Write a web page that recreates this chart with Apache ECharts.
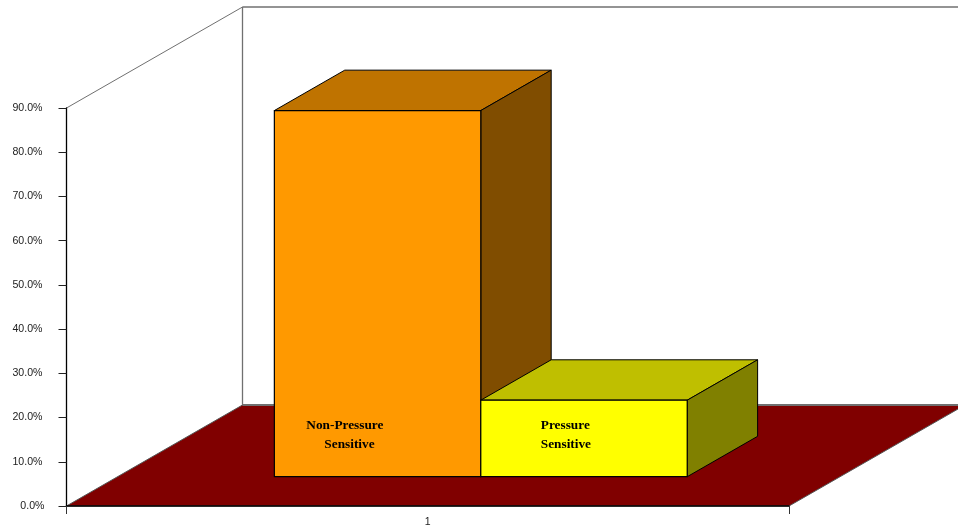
<!DOCTYPE html>
<html>
<head>
<meta charset="utf-8">
<title>Pressure sensitivity share</title>
<style>html,body{margin:0;padding:0;background:#fff}#chart{width:958px;height:527px}</style>
<script src="https://cdn.jsdelivr.net/npm/echarts@6/dist/echarts.min.js"></script>
</head>
<body>
<div id="chart"></div>
<script>
// Chart values
const categories = ['1'];
const seriesNames = ['Non-Pressure Sensitive', 'Pressure Sensitive'];
const seriesValues = [82.8, 17.3];
const axisTicks = [0, 10, 20, 30, 40, 50, 60, 70, 80, 90];

// Oblique projection of the 3D floor and of the bars standing on it
const floorDepth = { dx: 176, dy: -101 };
const barFront = 0.29;
const barBack = 0.69;
const gapRatio = 1.5;
const barShift = 2;

const faceStyles = [
  { front: '#FF9900', top: '#BF7300', side: '#804D00' },
  { front: '#FFFF00', top: '#BFBF00', side: '#808000' }
];
const captions = [
  [{ text: 'Non-Pressure', dx: 32, dy: 315 }, { text: 'Sensitive', dx: 50, dy: 334 }],
  [{ text: 'Pressure', dx: 60, dy: 25.5 }, { text: 'Sensitive', dx: 60, dy: 44.5 }]
];

function poly(points, fill, stroke, lineWidth) {
  return {
    type: 'polygon',
    shape: { points: points },
    style: { fill: fill, stroke: stroke, lineWidth: lineWidth, lineJoin: 'miter' }
  };
}

function line(x1, y1, x2, y2, stroke, lineWidth) {
  return {
    type: 'line',
    shape: { x1: x1, y1: y1, x2: x2, y2: y2 },
    style: { stroke: stroke, lineWidth: lineWidth }
  };
}

// Floor and the two wall outlines behind the bars
function renderRoom(params, api) {
  const c = params.coordSys;
  const left = c.x, right = c.x + c.width, top = c.y, bottom = c.y + c.height;
  const dx = floorDepth.dx, dy = floorDepth.dy;
  return {
    type: 'group',
    children: [
      poly([[left, bottom], [right, bottom], [right + dx, bottom + dy], [left + dx, bottom + dy]], '#800000', '#555555', 1),
      line(left + dx, bottom + dy, right + dx, bottom + dy, '#707070', 2),
      line(left, top, left + dx, top + dy, '#707070', 1),
      line(left + dx, top + dy, left + dx, bottom + dy, '#707070', 1.3),
      line(left + dx, top + dy, 958, top + dy, '#707070', 1.3)
    ]
  };
}

// One extruded bar: top, side and front faces plus its caption
function renderBar(barIndex) {
  return function (params, api) {
    const band = api.size([1, 0])[0];
    const width = band / (seriesValues.length + gapRatio);
    const center = api.coord([api.value(0), 0]);
    const valuePoint = api.coord([api.value(0), api.value(1)]);
    const fx = floorDepth.dx * barFront, fy = floorDepth.dy * barFront;
    const bx = floorDepth.dx * (barBack - barFront), by = floorDepth.dy * (barBack - barFront);
    const x0 = center[0] + (barIndex - seriesValues.length / 2) * width + fx + barShift;
    const x1 = x0 + width;
    const yBase = center[1] + fy;
    const yTop = valuePoint[1] + fy;
    const s = faceStyles[barIndex];
    const children = [
      poly([[x0, yTop], [x1, yTop], [x1 + bx, yTop + by], [x0 + bx, yTop + by]], s.top, '#000', 1),
      poly([[x1, yTop], [x1 + bx, yTop + by], [x1 + bx, yBase + by], [x1, yBase]], s.side, '#000', 1),
      poly([[x0, yTop], [x1, yTop], [x1, yBase], [x0, yBase]], s.front, '#000', 1.2)
    ];
    captions[barIndex].forEach(function (cap) {
      children.push({
        type: 'text',
        style: {
          x: x0 + cap.dx,
          y: yTop + cap.dy,
          text: cap.text,
          fill: '#000',
          font: 'bold 13.3px "Liberation Serif"',
          align: 'left',
          verticalAlign: 'middle'
        }
      });
    });
    return { type: 'group', children: children };
  };
}

const chart = echarts.init(document.getElementById('chart'), null, { renderer: 'canvas' });

chart.setOption({
  animation: false,
  backgroundColor: '#fff',
  tooltip: { show: false },
  grid: { left: 66.5, right: 169, top: 108, bottom: 21, containLabel: false, outerBoundsMode: 'none' },
  xAxis: {
    type: 'category',
    data: categories,
    z: 5,
    boundaryGap: true,
    axisLine: { show: true, lineStyle: { color: '#000', width: 1.5 } },
    axisTick: { show: true, length: 8, alignWithLabel: false, lineStyle: { color: '#333', width: 1 } },
    axisLabel: { color: '#222', fontFamily: 'Liberation Sans', fontSize: 10.5, margin: 11 }
  },
  yAxis: {
    type: 'value',
    min: axisTicks[0],
    max: axisTicks[axisTicks.length - 1],
    interval: 10,
    z: 5,
    splitLine: { show: false },
    axisLine: { show: true, lineStyle: { color: '#000', width: 1.3 } },
    axisTick: { show: true, length: 8, lineStyle: { color: '#222', width: 1 } },
    axisLabel: {
      margin: 22,
      formatter: function (v) {
        const s = v.toFixed(1) + '%';
        return v === 0 ? '{zero|' + s + '}' : '{tick|' + s + '}';
      },
      rich: {
        tick: { color: '#222', fontFamily: 'Liberation Sans', fontSize: 10.6, padding: [0, 2, 0, 0] },
        zero: { color: '#222', fontFamily: 'Liberation Sans', fontSize: 10.6 }
      }
    }
  },
  series: [
    { type: 'custom', name: 'room', z: 1, silent: true, clip: false, data: [[0, 0]], renderItem: renderRoom },
    { type: 'custom', name: seriesNames[0], z: 2, silent: true, clip: false, data: [[0, seriesValues[0]]], renderItem: renderBar(0) },
    { type: 'custom', name: seriesNames[1], z: 3, silent: true, clip: false, data: [[0, seriesValues[1]]], renderItem: renderBar(1) }
  ]
});
</script>
</body>
</html>
